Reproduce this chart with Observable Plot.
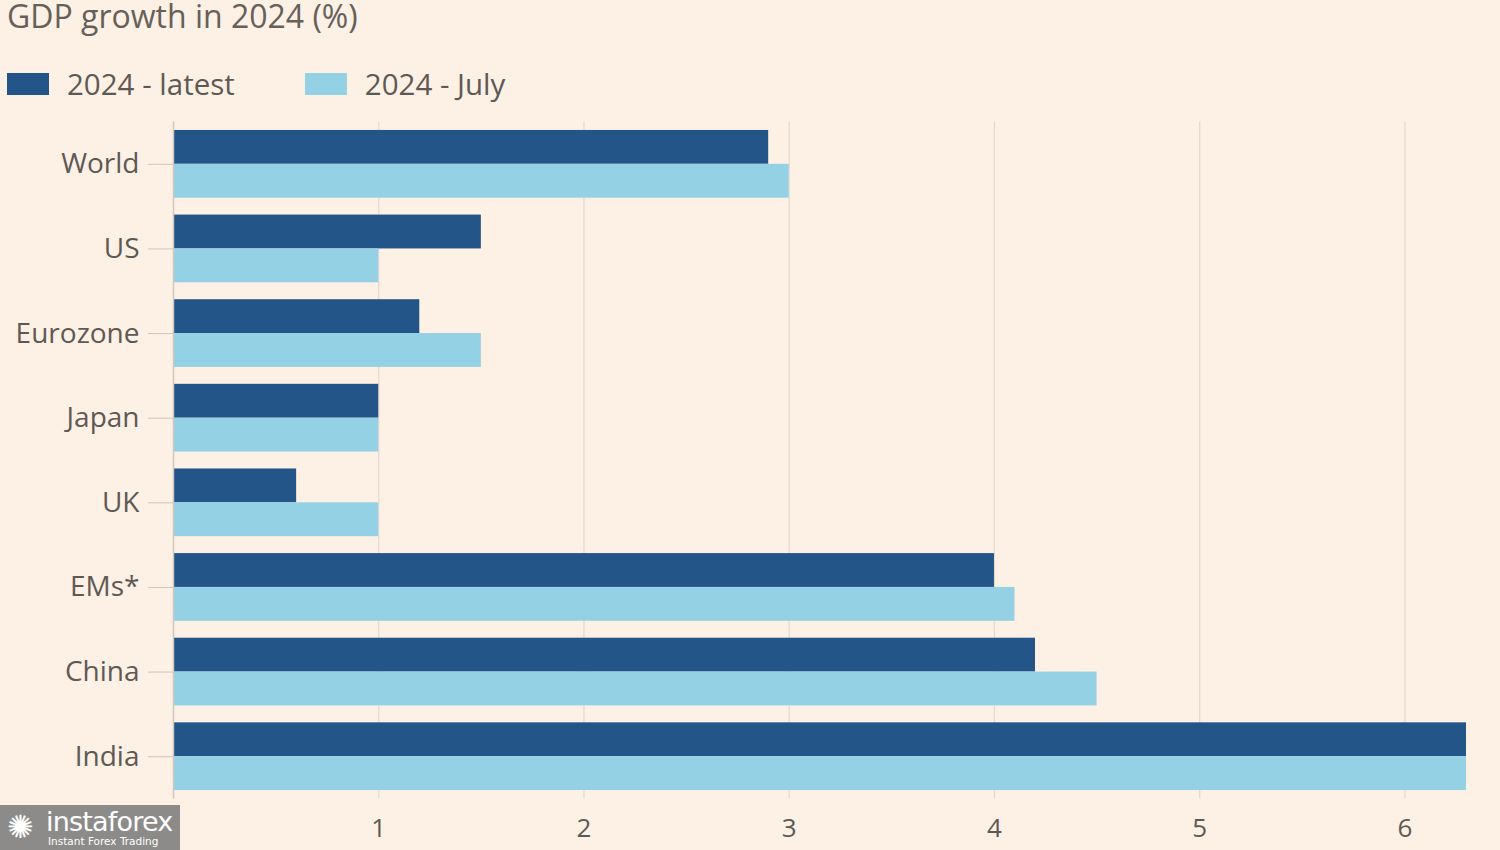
<!DOCTYPE html>
<html>
<head>
<meta charset="utf-8">
<script src="https://cdn.jsdelivr.net/npm/d3@7"></script>
<script src="https://cdn.jsdelivr.net/npm/@observablehq/plot@0.6"></script>
<style>
  html, body { margin: 0; padding: 0; background: #fdf0e5; }
  #page { position: relative; width: 1500px; height: 850px; overflow: hidden; background: #fdf0e5; font-family: "Open Sans", sans-serif; color: #5f5955; }
  #title { position: absolute; left: 7px; top: -6px; font-size: 32px; white-space: nowrap; color: #66605b; }
  #legend { position: absolute; left: 7px; top: 63px; font-size: 29.5px; display: flex; align-items: center; color: #5f5955; }
  .item { display: flex; align-items: center; margin-right: 70px; }
  .sw { width: 42px; height: 22px; margin-right: 18px; }
  #chart { position: absolute; left: 0; top: 110px; }
  #wm { position: absolute; left: 0; top: 805px; width: 180px; height: 45px; background: #8c8b8a; color: #fff; font-family: "DejaVu Sans", sans-serif; overflow: hidden; }
  #wm .big { position: absolute; left: 46px; top: 1px; font-size: 27px; letter-spacing: -0.8px; }
  #wm .small { position: absolute; left: 48px; top: 30px; font-size: 10.5px; }
  #wm .gear { position: absolute; left: 7px; top: 6px; font-size: 32px; line-height: 32px; }
</style>
</head>
<body>
<div id="page">
  <div id="title">GDP growth in 2024 (%)</div>
  <div id="legend"></div>
  <div id="chart"></div>
  <div id="wm"><span class="gear">✺</span><span class="big">instaforex</span><span class="small">Instant Forex Trading</span></div>
</div>
<script>
const countries = ["World", "US", "Eurozone", "Japan", "UK", "EMs*", "China", "India"];
const latest = [2.9, 1.5, 1.2, 1.0, 0.6, 4.0, 4.2, 6.3];
const july = [3.0, 1.0, 1.5, 1.0, 1.0, 4.1, 4.5, 6.3];
const seriesNames = ["2024 - latest", "2024 - July"];
const seriesColors = ["#235588", "#95d1e5"];
const xTicks = [0, 1, 2, 3, 4, 5, 6];

const rowsLatest = countries.map((c, i) => ({country: c, value: latest[i]}));
const rowsJuly = countries.map((c, i) => ({country: c, value: july[i]}));

// legend
const legend = document.getElementById("legend");
seriesNames.forEach((s, i) => {
  const it = document.createElement("div");
  it.className = "item";
  const sw = document.createElement("div");
  sw.className = "sw";
  sw.style.background = seriesColors[i];
  const t = document.createElement("span");
  t.textContent = s;
  it.appendChild(sw); it.appendChild(t);
  legend.appendChild(it);
});

const height = 740, marginTop = 11.5, marginBottom = 51.5;
const rangeH = height - marginTop - marginBottom;
const half = rangeH / countries.length * 0.8 / 2;

const chart = Plot.plot({
  width: 1500,
  height,
  marginTop,
  marginBottom,
  marginLeft: 173,
  marginRight: 34,
  style: {background: "transparent", fontFamily: "Open Sans, sans-serif", fontSize: "27px", color: "#5f5955"},
  x: {domain: [0, 6.3], ticks: xTicks},
  y: {domain: countries, padding: 0.2, paddingOuter: 0.1, round: false},
  marks: [
    Plot.gridX(xTicks.filter(d => d > 0), {stroke: "#e4d9cf", strokeOpacity: 1, strokeWidth: 1.2}),
    Plot.barX(rowsLatest, {y: "country", x: "value", fill: seriesColors[0], insetBottom: half}),
    Plot.barX(rowsJuly, {y: "country", x: "value", fill: seriesColors[1], insetTop: half}),
    Plot.ruleX([0], {stroke: "#cfc6bd", strokeWidth: 1.5}),
    Plot.axisY({tickSize: 25, tickPadding: 9, stroke: "#cfc6bd", fill: "#5f5955", fontSize: 28, label: null}),
    Plot.axisX({ticks: xTicks, tickSize: 0, tickPadding: 20, fill: "#5f5955", fontSize: 26, label: null, tickFormat: d => String(d)})
  ]
});
document.getElementById("chart").appendChild(chart);
</script>
</body>
</html>
